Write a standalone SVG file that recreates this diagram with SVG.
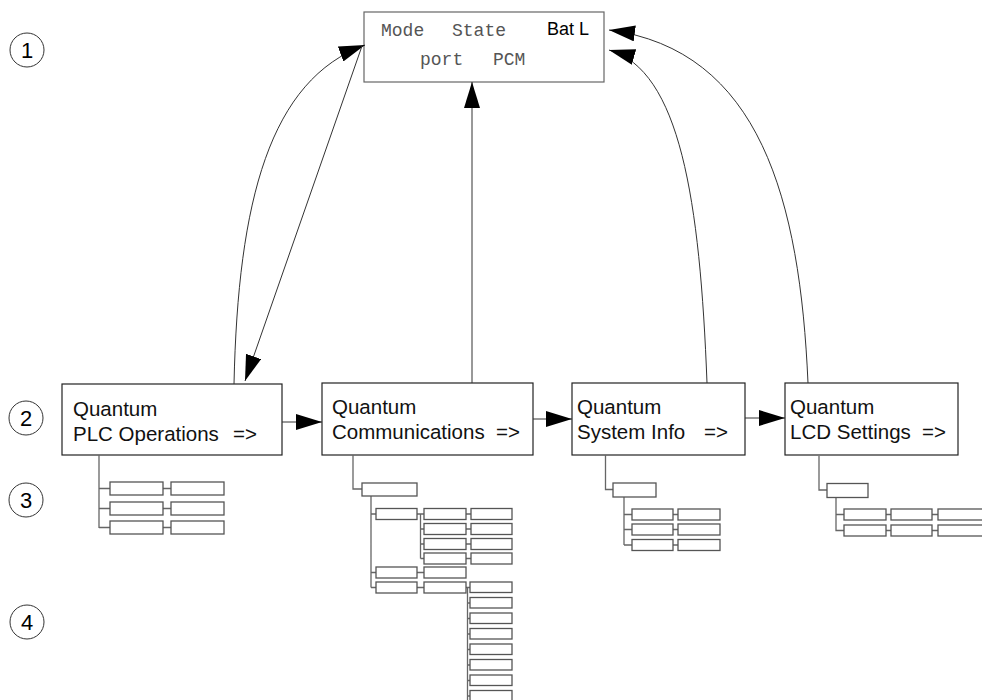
<svg xmlns="http://www.w3.org/2000/svg" width="982" height="700" viewBox="0 0 982 700">
<style>
.num{font-family:"Liberation Sans",Arial,sans-serif;font-size:22px;fill:#000;text-anchor:middle}
.ring{fill:none;stroke:#333;stroke-width:1}
.main{fill:#fff;stroke:#222;stroke-width:1.2}
.top{fill:#fff;stroke:#666;stroke-width:1.2}
.lbl{font-family:"Liberation Sans",Arial,sans-serif;font-size:20.5px;fill:#111}
.mono{font-family:"Liberation Mono","Courier New",monospace;font-size:18px;fill:#555}
.bat{font-family:"Liberation Sans",Arial,sans-serif;font-size:18px;fill:#000}
.conn{fill:none;stroke:#333;stroke-width:1}
.tree{fill:none;stroke:#666;stroke-width:1.3}
.sb{fill:#fff;stroke:#555;stroke-width:1.3}
</style>
<defs>
<marker id="ah" markerUnits="userSpaceOnUse" markerWidth="26" markerHeight="16" refX="26" refY="8" orient="auto">
<path d="M0,0 L26,8 L0,16 z" fill="#000"/>
</marker>
</defs>

<g id="markers">
<circle class="ring" cx="27" cy="50" r="17"/><text class="num" x="27" y="58">1</text>
<circle class="ring" cx="26" cy="418" r="17"/><text class="num" x="26" y="426">2</text>
<circle class="ring" cx="26" cy="500" r="17"/><text class="num" x="26" y="508">3</text>
<circle class="ring" cx="27" cy="622" r="17"/><text class="num" x="27" y="630">4</text>
</g>

<g id="lcd">
<rect class="top" x="364" y="12" width="240" height="70"/>
<text class="mono" x="381" y="36">Mode</text>
<text class="mono" x="452" y="36">State</text>
<text class="bat" x="547" y="35">Bat L</text>
<text class="mono" x="420" y="65">port</text>
<text class="mono" x="493" y="65">PCM</text>
</g>

<g id="plc">
<rect class="main" x="62" y="384" width="220" height="71"/>
<text class="lbl" x="73" y="416">Quantum</text>
<text class="lbl" x="73" y="441">PLC Operations<tspan x="233">=&gt;</tspan></text>
</g>

<g id="comm">
<rect class="main" x="322" y="383" width="211" height="72"/>
<text class="lbl" x="332" y="414">Quantum</text>
<text class="lbl" x="332" y="439">Communications<tspan x="496">=&gt;</tspan></text>
</g>

<g id="sysinfo">
<rect class="main" x="572" y="383" width="173" height="72"/>
<text class="lbl" x="577" y="414">Quantum</text>
<text class="lbl" x="577" y="439">System Info<tspan x="704">=&gt;</tspan></text>
</g>

<g id="lcdset">
<rect class="main" x="785" y="383" width="173" height="72"/>
<text class="lbl" x="790" y="414">Quantum</text>
<text class="lbl" x="790" y="439">LCD Settings<tspan x="922">=&gt;</tspan></text>
</g>

<g id="connectors">
<line class="conn" x1="282" y1="422" x2="322" y2="422" marker-end="url(#ah)"/>
<line class="conn" x1="533" y1="419" x2="572" y2="419" marker-end="url(#ah)"/>
<line class="conn" x1="745" y1="418" x2="785" y2="418" marker-end="url(#ah)"/>
<path class="conn" d="M234,384 C238,200 270,80 365,45" marker-end="url(#ah)"/>
<line class="conn" x1="362" y1="46" x2="245" y2="381" marker-end="url(#ah)"/>
<line class="conn" x1="472" y1="383" x2="472" y2="82" marker-end="url(#ah)"/>
<path class="conn" d="M707,383 C700,200 680,70 609,50" marker-end="url(#ah)"/>
<path class="conn" d="M808,383 C800,200 760,50 609,30" marker-end="url(#ah)"/>
</g>

<g id="tree-plc">
<path class="tree" d="M99,455 V528 M99,488.5 H110 M99,508.5 H110 M99,527.5 H110 M163,488.5 H171 M163,508.5 H171 M163,527.5 H171"/>
<rect class="sb" x="110" y="482" width="53" height="13"/>
<rect class="sb" x="171" y="482" width="53" height="13"/>
<rect class="sb" x="110" y="502" width="53" height="13"/>
<rect class="sb" x="171" y="502" width="53" height="13"/>
<rect class="sb" x="110" y="521" width="53" height="13"/>
<rect class="sb" x="171" y="521" width="53" height="13"/>
</g>

<g id="tree-comm">
<path class="tree" d="M353,455 V489 H362 M371,496 V587.5 M371,514 H376 M371,572.5 H376 M371,587.5 H376 M417,514 H424 M420.5,514 V558.5 M420.5,529 H424 M420.5,544 H424 M420.5,558.5 H424 M466,514 H471 M466,529 H471 M466,544 H471 M466,558.5 H471 M417,572.5 H424 M417,587.5 H424 M466,587.5 H470 M467.5,587 V700 M467.5,603 H470 M467.5,618.5 H470 M467.5,634 H470 M467.5,649.5 H470 M467.5,665 H470 M467.5,680.5 H470 M467.5,696 H470"/>
<rect class="sb" x="362" y="483" width="55" height="13"/>
<rect class="sb" x="376" y="508.5" width="41" height="11"/>
<rect class="sb" x="424" y="508.5" width="42" height="11"/>
<rect class="sb" x="471" y="508.5" width="41" height="11"/>
<rect class="sb" x="424" y="523.5" width="42" height="11"/>
<rect class="sb" x="471" y="523.5" width="41" height="11"/>
<rect class="sb" x="424" y="538.5" width="42" height="11"/>
<rect class="sb" x="471" y="538.5" width="41" height="11"/>
<rect class="sb" x="424" y="553" width="42" height="11"/>
<rect class="sb" x="471" y="553" width="41" height="11"/>
<rect class="sb" x="376" y="567" width="41" height="11"/>
<rect class="sb" x="424" y="567" width="42" height="11"/>
<rect class="sb" x="376" y="582" width="41" height="11"/>
<rect class="sb" x="424" y="582" width="42" height="11"/>
<rect class="sb" x="470" y="582" width="42" height="10.5"/>
<rect class="sb" x="470" y="597.5" width="42" height="10.5"/>
<rect class="sb" x="470" y="613" width="42" height="10.5"/>
<rect class="sb" x="470" y="628.5" width="42" height="10.5"/>
<rect class="sb" x="470" y="644" width="42" height="10.5"/>
<rect class="sb" x="470" y="659.5" width="42" height="10.5"/>
<rect class="sb" x="470" y="675" width="42" height="10.5"/>
<rect class="sb" x="470" y="690.5" width="42" height="10.5"/>
</g>

<g id="tree-sys">
<path class="tree" d="M605.5,455 V489.5 H613 M624,497 V545 M624,514.5 H632 M624,529.5 H632 M624,545 H632 M673,514.5 H678 M673,529.5 H678 M673,545 H678"/>
<rect class="sb" x="613" y="483" width="43" height="14"/>
<rect class="sb" x="632" y="509" width="41" height="11"/>
<rect class="sb" x="678" y="509" width="42" height="11"/>
<rect class="sb" x="632" y="524" width="41" height="11"/>
<rect class="sb" x="678" y="524" width="42" height="11"/>
<rect class="sb" x="632" y="539.5" width="41" height="11"/>
<rect class="sb" x="678" y="539.5" width="42" height="11"/>
</g>

<g id="tree-lcd">
<path class="tree" d="M819,456 V490 H827 M836,497 V530.5 H844 M836,514.5 H844 M886,514.5 H891 M886,530.5 H891 M932,514.5 H938 M932,530.5 H938"/>
<rect class="sb" x="827" y="483.5" width="41" height="14"/>
<rect class="sb" x="844" y="509" width="42" height="11"/>
<rect class="sb" x="891" y="509" width="41" height="11"/>
<rect class="sb" x="938" y="509" width="50" height="11"/>
<rect class="sb" x="844" y="525" width="42" height="11"/>
<rect class="sb" x="891" y="525" width="41" height="11"/>
<rect class="sb" x="938" y="525" width="50" height="11"/>
</g>
</svg>
